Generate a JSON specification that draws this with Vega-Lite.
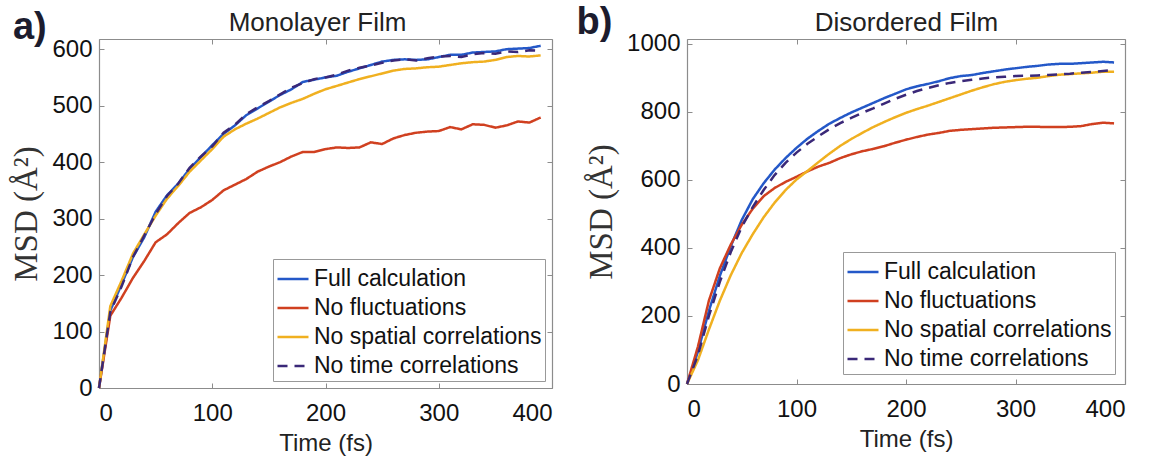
{
  "$schema": "https://vega.github.io/schema/vega-lite/v6.json",
  "padding": {"left": 10, "top": 3, "right": 5, "bottom": 5},
  "spacing": 135,
  "bounds": "flush",
  "background": "white",
  "config": {
    "font": "Liberation Sans",
    "view": {"stroke": null},
    "axis": {
      "grid": false,
      "domainColor": "#8c8c8c",
      "domainWidth": 1.2,
      "tickColor": "#8c8c8c",
      "tickSize": -5,
      "labelFont": "Liberation Sans",
      "labelFontSize": 24,
      "labelColor": "#111111",
      "format": "d",
      "titleFont": "Liberation Sans",
      "titleFontWeight": "normal",
      "titleColor": "#222222"
    },
    "legend": {
      "orient": "bottom-right",
      "offset": 10,
      "symbolType": "stroke",
      "symbolSize": 961,
      "symbolStrokeWidth": 2.5,
      "labelFont": "Liberation Sans",
      "labelFontSize": 23,
      "labelColor": "#111111",
      "labelOffset": 4,
      "labelLimit": 400,
      "strokeColor": "#999999",
      "fillColor": "white",
      "padding": 3,
      "rowPadding": -2
    }
  },
  "datasets": {
    "mono": [
      {"series": "Full calculation", "time": 0, "msd": 0}, {"series": "Full calculation", "time": 10, "msd": 137}, {"series": "Full calculation", "time": 20, "msd": 184}, {"series": "Full calculation", "time": 30, "msd": 232}, {"series": "Full calculation", "time": 40, "msd": 267}, {"series": "Full calculation", "time": 50, "msd": 312}, {"series": "Full calculation", "time": 60, "msd": 341}, {"series": "Full calculation", "time": 70, "msd": 362}, {"series": "Full calculation", "time": 80, "msd": 388}, {"series": "Full calculation", "time": 90, "msd": 409}, {"series": "Full calculation", "time": 100, "msd": 430}, {"series": "Full calculation", "time": 110, "msd": 450}, {"series": "Full calculation", "time": 120, "msd": 465}, {"series": "Full calculation", "time": 130, "msd": 483}, {"series": "Full calculation", "time": 140, "msd": 495}, {"series": "Full calculation", "time": 150, "msd": 507}, {"series": "Full calculation", "time": 160, "msd": 519}, {"series": "Full calculation", "time": 170, "msd": 529}, {"series": "Full calculation", "time": 180, "msd": 542}, {"series": "Full calculation", "time": 190, "msd": 546}, {"series": "Full calculation", "time": 200, "msd": 550}, {"series": "Full calculation", "time": 210, "msd": 553}, {"series": "Full calculation", "time": 220, "msd": 560}, {"series": "Full calculation", "time": 230, "msd": 566}, {"series": "Full calculation", "time": 240, "msd": 572}, {"series": "Full calculation", "time": 250, "msd": 578}, {"series": "Full calculation", "time": 260, "msd": 581}, {"series": "Full calculation", "time": 270, "msd": 582}, {"series": "Full calculation", "time": 280, "msd": 581}, {"series": "Full calculation", "time": 290, "msd": 582}, {"series": "Full calculation", "time": 300, "msd": 586}, {"series": "Full calculation", "time": 310, "msd": 590}, {"series": "Full calculation", "time": 320, "msd": 590}, {"series": "Full calculation", "time": 330, "msd": 594}, {"series": "Full calculation", "time": 340, "msd": 595}, {"series": "Full calculation", "time": 350, "msd": 596}, {"series": "Full calculation", "time": 360, "msd": 600}, {"series": "Full calculation", "time": 370, "msd": 601}, {"series": "Full calculation", "time": 380, "msd": 602}, {"series": "Full calculation", "time": 390, "msd": 606},
      {"series": "No fluctuations", "time": 0, "msd": 0}, {"series": "No fluctuations", "time": 10, "msd": 128}, {"series": "No fluctuations", "time": 20, "msd": 160}, {"series": "No fluctuations", "time": 30, "msd": 195}, {"series": "No fluctuations", "time": 40, "msd": 225}, {"series": "No fluctuations", "time": 50, "msd": 258}, {"series": "No fluctuations", "time": 60, "msd": 272}, {"series": "No fluctuations", "time": 70, "msd": 292}, {"series": "No fluctuations", "time": 80, "msd": 310}, {"series": "No fluctuations", "time": 90, "msd": 320}, {"series": "No fluctuations", "time": 100, "msd": 333}, {"series": "No fluctuations", "time": 110, "msd": 350}, {"series": "No fluctuations", "time": 120, "msd": 360}, {"series": "No fluctuations", "time": 130, "msd": 370}, {"series": "No fluctuations", "time": 140, "msd": 383}, {"series": "No fluctuations", "time": 150, "msd": 392}, {"series": "No fluctuations", "time": 160, "msd": 400}, {"series": "No fluctuations", "time": 170, "msd": 410}, {"series": "No fluctuations", "time": 180, "msd": 418}, {"series": "No fluctuations", "time": 190, "msd": 418}, {"series": "No fluctuations", "time": 200, "msd": 423}, {"series": "No fluctuations", "time": 210, "msd": 426}, {"series": "No fluctuations", "time": 220, "msd": 425}, {"series": "No fluctuations", "time": 230, "msd": 426}, {"series": "No fluctuations", "time": 240, "msd": 435}, {"series": "No fluctuations", "time": 250, "msd": 432}, {"series": "No fluctuations", "time": 260, "msd": 442}, {"series": "No fluctuations", "time": 270, "msd": 448}, {"series": "No fluctuations", "time": 280, "msd": 452}, {"series": "No fluctuations", "time": 290, "msd": 454}, {"series": "No fluctuations", "time": 300, "msd": 455}, {"series": "No fluctuations", "time": 310, "msd": 462}, {"series": "No fluctuations", "time": 320, "msd": 458}, {"series": "No fluctuations", "time": 330, "msd": 467}, {"series": "No fluctuations", "time": 340, "msd": 466}, {"series": "No fluctuations", "time": 350, "msd": 461}, {"series": "No fluctuations", "time": 360, "msd": 465}, {"series": "No fluctuations", "time": 370, "msd": 472}, {"series": "No fluctuations", "time": 380, "msd": 470}, {"series": "No fluctuations", "time": 390, "msd": 479},
      {"series": "No spatial correlations", "time": 0, "msd": 0}, {"series": "No spatial correlations", "time": 10, "msd": 145}, {"series": "No spatial correlations", "time": 20, "msd": 190}, {"series": "No spatial correlations", "time": 30, "msd": 238}, {"series": "No spatial correlations", "time": 40, "msd": 272}, {"series": "No spatial correlations", "time": 50, "msd": 305}, {"series": "No spatial correlations", "time": 60, "msd": 335}, {"series": "No spatial correlations", "time": 70, "msd": 358}, {"series": "No spatial correlations", "time": 80, "msd": 383}, {"series": "No spatial correlations", "time": 90, "msd": 403}, {"series": "No spatial correlations", "time": 100, "msd": 423}, {"series": "No spatial correlations", "time": 110, "msd": 445}, {"series": "No spatial correlations", "time": 120, "msd": 458}, {"series": "No spatial correlations", "time": 130, "msd": 468}, {"series": "No spatial correlations", "time": 140, "msd": 477}, {"series": "No spatial correlations", "time": 150, "msd": 487}, {"series": "No spatial correlations", "time": 160, "msd": 497}, {"series": "No spatial correlations", "time": 170, "msd": 505}, {"series": "No spatial correlations", "time": 180, "msd": 512}, {"series": "No spatial correlations", "time": 190, "msd": 521}, {"series": "No spatial correlations", "time": 200, "msd": 529}, {"series": "No spatial correlations", "time": 210, "msd": 535}, {"series": "No spatial correlations", "time": 220, "msd": 541}, {"series": "No spatial correlations", "time": 230, "msd": 547}, {"series": "No spatial correlations", "time": 240, "msd": 552}, {"series": "No spatial correlations", "time": 250, "msd": 557}, {"series": "No spatial correlations", "time": 260, "msd": 562}, {"series": "No spatial correlations", "time": 270, "msd": 565}, {"series": "No spatial correlations", "time": 280, "msd": 566}, {"series": "No spatial correlations", "time": 290, "msd": 568}, {"series": "No spatial correlations", "time": 300, "msd": 569}, {"series": "No spatial correlations", "time": 310, "msd": 572}, {"series": "No spatial correlations", "time": 320, "msd": 575}, {"series": "No spatial correlations", "time": 330, "msd": 577}, {"series": "No spatial correlations", "time": 340, "msd": 578}, {"series": "No spatial correlations", "time": 350, "msd": 581}, {"series": "No spatial correlations", "time": 360, "msd": 586}, {"series": "No spatial correlations", "time": 370, "msd": 588}, {"series": "No spatial correlations", "time": 380, "msd": 587}, {"series": "No spatial correlations", "time": 390, "msd": 589},
      {"series": "No time correlations", "time": 0, "msd": 0}, {"series": "No time correlations", "time": 10, "msd": 135}, {"series": "No time correlations", "time": 20, "msd": 180}, {"series": "No time correlations", "time": 30, "msd": 232}, {"series": "No time correlations", "time": 40, "msd": 270}, {"series": "No time correlations", "time": 50, "msd": 308}, {"series": "No time correlations", "time": 60, "msd": 340}, {"series": "No time correlations", "time": 70, "msd": 362}, {"series": "No time correlations", "time": 80, "msd": 390}, {"series": "No time correlations", "time": 90, "msd": 410}, {"series": "No time correlations", "time": 100, "msd": 428}, {"series": "No time correlations", "time": 110, "msd": 452}, {"series": "No time correlations", "time": 120, "msd": 466}, {"series": "No time correlations", "time": 130, "msd": 485}, {"series": "No time correlations", "time": 140, "msd": 497}, {"series": "No time correlations", "time": 150, "msd": 508}, {"series": "No time correlations", "time": 160, "msd": 520}, {"series": "No time correlations", "time": 170, "msd": 532}, {"series": "No time correlations", "time": 180, "msd": 540}, {"series": "No time correlations", "time": 190, "msd": 547}, {"series": "No time correlations", "time": 200, "msd": 550}, {"series": "No time correlations", "time": 210, "msd": 555}, {"series": "No time correlations", "time": 220, "msd": 562}, {"series": "No time correlations", "time": 230, "msd": 567}, {"series": "No time correlations", "time": 240, "msd": 571}, {"series": "No time correlations", "time": 250, "msd": 576}, {"series": "No time correlations", "time": 260, "msd": 580}, {"series": "No time correlations", "time": 270, "msd": 582}, {"series": "No time correlations", "time": 280, "msd": 580}, {"series": "No time correlations", "time": 290, "msd": 584}, {"series": "No time correlations", "time": 300, "msd": 587}, {"series": "No time correlations", "time": 310, "msd": 588}, {"series": "No time correlations", "time": 320, "msd": 586}, {"series": "No time correlations", "time": 330, "msd": 591}, {"series": "No time correlations", "time": 340, "msd": 593}, {"series": "No time correlations", "time": 350, "msd": 592}, {"series": "No time correlations", "time": 360, "msd": 596}, {"series": "No time correlations", "time": 370, "msd": 595}, {"series": "No time correlations", "time": 380, "msd": 598}, {"series": "No time correlations", "time": 390, "msd": 597}
    ],
    "dis": [
      {"series": "Full calculation", "time": 0, "msd": 0}, {"series": "Full calculation", "time": 10, "msd": 95}, {"series": "Full calculation", "time": 20, "msd": 215}, {"series": "Full calculation", "time": 30, "msd": 318}, {"series": "Full calculation", "time": 40, "msd": 405}, {"series": "Full calculation", "time": 50, "msd": 482}, {"series": "Full calculation", "time": 60, "msd": 543}, {"series": "Full calculation", "time": 70, "msd": 590}, {"series": "Full calculation", "time": 80, "msd": 630}, {"series": "Full calculation", "time": 90, "msd": 664}, {"series": "Full calculation", "time": 100, "msd": 694}, {"series": "Full calculation", "time": 110, "msd": 721}, {"series": "Full calculation", "time": 120, "msd": 744}, {"series": "Full calculation", "time": 130, "msd": 765}, {"series": "Full calculation", "time": 140, "msd": 782}, {"series": "Full calculation", "time": 150, "msd": 798}, {"series": "Full calculation", "time": 160, "msd": 812}, {"series": "Full calculation", "time": 170, "msd": 826}, {"series": "Full calculation", "time": 180, "msd": 840}, {"series": "Full calculation", "time": 190, "msd": 853}, {"series": "Full calculation", "time": 200, "msd": 866}, {"series": "Full calculation", "time": 210, "msd": 875}, {"series": "Full calculation", "time": 220, "msd": 882}, {"series": "Full calculation", "time": 230, "msd": 890}, {"series": "Full calculation", "time": 240, "msd": 899}, {"series": "Full calculation", "time": 250, "msd": 905}, {"series": "Full calculation", "time": 260, "msd": 908}, {"series": "Full calculation", "time": 270, "msd": 914}, {"series": "Full calculation", "time": 280, "msd": 919}, {"series": "Full calculation", "time": 290, "msd": 924}, {"series": "Full calculation", "time": 300, "msd": 928}, {"series": "Full calculation", "time": 310, "msd": 932}, {"series": "Full calculation", "time": 320, "msd": 935}, {"series": "Full calculation", "time": 330, "msd": 939}, {"series": "Full calculation", "time": 340, "msd": 941}, {"series": "Full calculation", "time": 350, "msd": 941}, {"series": "Full calculation", "time": 360, "msd": 943}, {"series": "Full calculation", "time": 370, "msd": 945}, {"series": "Full calculation", "time": 380, "msd": 947}, {"series": "Full calculation", "time": 390, "msd": 945},
      {"series": "No fluctuations", "time": 0, "msd": 0}, {"series": "No fluctuations", "time": 10, "msd": 110}, {"series": "No fluctuations", "time": 20, "msd": 245}, {"series": "No fluctuations", "time": 30, "msd": 340}, {"series": "No fluctuations", "time": 40, "msd": 410}, {"series": "No fluctuations", "time": 50, "msd": 468}, {"series": "No fluctuations", "time": 60, "msd": 515}, {"series": "No fluctuations", "time": 70, "msd": 552}, {"series": "No fluctuations", "time": 80, "msd": 576}, {"series": "No fluctuations", "time": 90, "msd": 594}, {"series": "No fluctuations", "time": 100, "msd": 609}, {"series": "No fluctuations", "time": 110, "msd": 625}, {"series": "No fluctuations", "time": 120, "msd": 639}, {"series": "No fluctuations", "time": 130, "msd": 650}, {"series": "No fluctuations", "time": 140, "msd": 664}, {"series": "No fluctuations", "time": 150, "msd": 675}, {"series": "No fluctuations", "time": 160, "msd": 684}, {"series": "No fluctuations", "time": 170, "msd": 691}, {"series": "No fluctuations", "time": 180, "msd": 699}, {"series": "No fluctuations", "time": 190, "msd": 709}, {"series": "No fluctuations", "time": 200, "msd": 718}, {"series": "No fluctuations", "time": 210, "msd": 726}, {"series": "No fluctuations", "time": 220, "msd": 733}, {"series": "No fluctuations", "time": 230, "msd": 738}, {"series": "No fluctuations", "time": 240, "msd": 744}, {"series": "No fluctuations", "time": 250, "msd": 747}, {"series": "No fluctuations", "time": 260, "msd": 749}, {"series": "No fluctuations", "time": 270, "msd": 751}, {"series": "No fluctuations", "time": 280, "msd": 753}, {"series": "No fluctuations", "time": 290, "msd": 754}, {"series": "No fluctuations", "time": 300, "msd": 755}, {"series": "No fluctuations", "time": 310, "msd": 756}, {"series": "No fluctuations", "time": 320, "msd": 756}, {"series": "No fluctuations", "time": 330, "msd": 755}, {"series": "No fluctuations", "time": 340, "msd": 755}, {"series": "No fluctuations", "time": 350, "msd": 756}, {"series": "No fluctuations", "time": 360, "msd": 758}, {"series": "No fluctuations", "time": 370, "msd": 764}, {"series": "No fluctuations", "time": 380, "msd": 768}, {"series": "No fluctuations", "time": 390, "msd": 766},
      {"series": "No spatial correlations", "time": 0, "msd": 0}, {"series": "No spatial correlations", "time": 10, "msd": 70}, {"series": "No spatial correlations", "time": 20, "msd": 160}, {"series": "No spatial correlations", "time": 30, "msd": 245}, {"series": "No spatial correlations", "time": 40, "msd": 320}, {"series": "No spatial correlations", "time": 50, "msd": 385}, {"series": "No spatial correlations", "time": 60, "msd": 440}, {"series": "No spatial correlations", "time": 70, "msd": 490}, {"series": "No spatial correlations", "time": 80, "msd": 533}, {"series": "No spatial correlations", "time": 90, "msd": 570}, {"series": "No spatial correlations", "time": 100, "msd": 601}, {"series": "No spatial correlations", "time": 110, "msd": 626}, {"series": "No spatial correlations", "time": 120, "msd": 652}, {"series": "No spatial correlations", "time": 130, "msd": 677}, {"series": "No spatial correlations", "time": 140, "msd": 700}, {"series": "No spatial correlations", "time": 150, "msd": 720}, {"series": "No spatial correlations", "time": 160, "msd": 738}, {"series": "No spatial correlations", "time": 170, "msd": 755}, {"series": "No spatial correlations", "time": 180, "msd": 770}, {"series": "No spatial correlations", "time": 190, "msd": 784}, {"series": "No spatial correlations", "time": 200, "msd": 797}, {"series": "No spatial correlations", "time": 210, "msd": 808}, {"series": "No spatial correlations", "time": 220, "msd": 818}, {"series": "No spatial correlations", "time": 230, "msd": 829}, {"series": "No spatial correlations", "time": 240, "msd": 840}, {"series": "No spatial correlations", "time": 250, "msd": 851}, {"series": "No spatial correlations", "time": 260, "msd": 862}, {"series": "No spatial correlations", "time": 270, "msd": 872}, {"series": "No spatial correlations", "time": 280, "msd": 881}, {"series": "No spatial correlations", "time": 290, "msd": 888}, {"series": "No spatial correlations", "time": 300, "msd": 893}, {"series": "No spatial correlations", "time": 310, "msd": 897}, {"series": "No spatial correlations", "time": 320, "msd": 900}, {"series": "No spatial correlations", "time": 330, "msd": 905}, {"series": "No spatial correlations", "time": 340, "msd": 909}, {"series": "No spatial correlations", "time": 350, "msd": 911}, {"series": "No spatial correlations", "time": 360, "msd": 913}, {"series": "No spatial correlations", "time": 370, "msd": 915}, {"series": "No spatial correlations", "time": 380, "msd": 918}, {"series": "No spatial correlations", "time": 390, "msd": 918},
      {"series": "No time correlations", "time": 0, "msd": 0}, {"series": "No time correlations", "time": 10, "msd": 85}, {"series": "No time correlations", "time": 20, "msd": 200}, {"series": "No time correlations", "time": 30, "msd": 300}, {"series": "No time correlations", "time": 40, "msd": 388}, {"series": "No time correlations", "time": 50, "msd": 462}, {"series": "No time correlations", "time": 60, "msd": 520}, {"series": "No time correlations", "time": 70, "msd": 570}, {"series": "No time correlations", "time": 80, "msd": 614}, {"series": "No time correlations", "time": 90, "msd": 650}, {"series": "No time correlations", "time": 100, "msd": 680}, {"series": "No time correlations", "time": 110, "msd": 706}, {"series": "No time correlations", "time": 120, "msd": 728}, {"series": "No time correlations", "time": 130, "msd": 749}, {"series": "No time correlations", "time": 140, "msd": 767}, {"series": "No time correlations", "time": 150, "msd": 782}, {"series": "No time correlations", "time": 160, "msd": 797}, {"series": "No time correlations", "time": 170, "msd": 810}, {"series": "No time correlations", "time": 180, "msd": 824}, {"series": "No time correlations", "time": 190, "msd": 838}, {"series": "No time correlations", "time": 200, "msd": 850}, {"series": "No time correlations", "time": 210, "msd": 861}, {"series": "No time correlations", "time": 220, "msd": 870}, {"series": "No time correlations", "time": 230, "msd": 878}, {"series": "No time correlations", "time": 240, "msd": 885}, {"series": "No time correlations", "time": 250, "msd": 890}, {"series": "No time correlations", "time": 260, "msd": 894}, {"series": "No time correlations", "time": 270, "msd": 898}, {"series": "No time correlations", "time": 280, "msd": 901}, {"series": "No time correlations", "time": 290, "msd": 903}, {"series": "No time correlations", "time": 300, "msd": 905}, {"series": "No time correlations", "time": 310, "msd": 906}, {"series": "No time correlations", "time": 320, "msd": 907}, {"series": "No time correlations", "time": 330, "msd": 908}, {"series": "No time correlations", "time": 340, "msd": 910}, {"series": "No time correlations", "time": 350, "msd": 912}, {"series": "No time correlations", "time": 360, "msd": 915}, {"series": "No time correlations", "time": 370, "msd": 917}, {"series": "No time correlations", "time": 380, "msd": 920}, {"series": "No time correlations", "time": 390, "msd": 923}
    ]
  },
  "resolve": {"scale": {"color": "independent", "strokeDash": "independent"}},
  "hconcat": [
    {
      "width": 453,
      "height": 349,
      "title": {"text": "a)", "anchor": "start", "frame": "bounds", "fontSize": 38, "fontWeight": "bold", "color": "#1c1c2e", "font": "Liberation Sans", "baseline": "alphabetic", "offset": 0, "dx": 2, "dy": 67},
      "layer": [
        {
          "data": {"name": "mono"},
          "mark": {"type": "line", "strokeWidth": 2.5},
          "encoding": {
            "x": {"field": "time", "type": "quantitative", "scale": {"domain": [0, 400], "nice": false}, "axis": {"title": "Time (fs)", "titleFontSize": 24, "values": [0, 100, 200, 300, 400], "labelPadding": 18, "titlePadding": 6}},
            "y": {"field": "msd", "type": "quantitative", "scale": {"domain": [0, 618], "nice": false}, "axis": {"title": "MSD (Å²)", "titleFont": "Liberation Serif", "titleFontSize": 33, "titleColor": "#333333", "values": [0, 100, 200, 300, 400, 500, 600], "labelPadding": 12, "titlePadding": 8}},
            "color": {"field": "series", "type": "nominal", "title": null, "scale": {"domain": ["Full calculation", "No fluctuations", "No spatial correlations", "No time correlations"], "range": ["#2458c8", "#d04020", "#f0b020", "#3a2878"]}, "legend": {"offset": 7}},
            "strokeDash": {"field": "series", "type": "nominal", "title": null, "scale": {"domain": ["Full calculation", "No fluctuations", "No spatial correlations", "No time correlations"], "range": [[1, 0], [1, 0], [1, 0], [10, 7]]}, "legend": {"offset": 7}}
          }
        },
        {
          "data": {"values": [{}]},
          "mark": {"type": "point", "opacity": 0},
          "encoding": {
            "x": {"datum": 0, "type": "quantitative", "axis": {"orient": "top", "labels": false, "title": "Monolayer Film", "titleFontSize": 26, "titlePadding": 3, "titleX": 218, "values": [0, 100, 200, 300, 400]}},
            "y": {"datum": 0, "type": "quantitative", "axis": {"orient": "right", "labels": false, "title": null, "values": [0, 100, 200, 300, 400, 500, 600]}}
          }
        }
      ],
      "resolve": {"axis": {"x": "independent", "y": "independent"}}
    },
    {
      "width": 438,
      "height": 345,
      "title": {"text": "b)", "anchor": "start", "frame": "bounds", "fontSize": 38, "fontWeight": "bold", "color": "#1c1c2e", "font": "Liberation Sans", "baseline": "alphabetic", "offset": 0, "dx": -9, "dy": 62},
      "layer": [
        {
          "data": {"name": "dis"},
          "mark": {"type": "line", "strokeWidth": 2.5},
          "encoding": {
            "x": {"field": "time", "type": "quantitative", "scale": {"domain": [0, 400], "nice": false}, "axis": {"title": "Time (fs)", "titleFontSize": 24, "values": [0, 100, 200, 300, 400], "labelPadding": 18, "titlePadding": 6}},
            "y": {"field": "msd", "type": "quantitative", "scale": {"domain": [0, 1014], "nice": false}, "axis": {"title": "MSD (Å²)", "titleFont": "Liberation Serif", "titleFontSize": 33, "titleColor": "#333333", "values": [0, 200, 400, 600, 800, 1000], "labelPadding": 12, "titlePadding": 8}},
            "color": {"field": "series", "type": "nominal", "title": null, "scale": {"domain": ["Full calculation", "No fluctuations", "No spatial correlations", "No time correlations"], "range": ["#2458c8", "#d04020", "#f0b020", "#3a2878"]}, "legend": {"offset": 10}},
            "strokeDash": {"field": "series", "type": "nominal", "title": null, "scale": {"domain": ["Full calculation", "No fluctuations", "No spatial correlations", "No time correlations"], "range": [[1, 0], [1, 0], [1, 0], [10, 7]]}, "legend": {"offset": 10}}
          }
        },
        {
          "data": {"values": [{}]},
          "mark": {"type": "point", "opacity": 0},
          "encoding": {
            "x": {"datum": 0, "type": "quantitative", "axis": {"orient": "top", "labels": false, "title": "Disordered Film", "titleFontSize": 26, "titlePadding": 3, "values": [0, 100, 200, 300, 400]}},
            "y": {"datum": 0, "type": "quantitative", "axis": {"orient": "right", "labels": false, "title": null, "values": [0, 200, 400, 600, 800, 1000]}}
          }
        }
      ],
      "resolve": {"axis": {"x": "independent", "y": "independent"}}
    }
  ]
}
